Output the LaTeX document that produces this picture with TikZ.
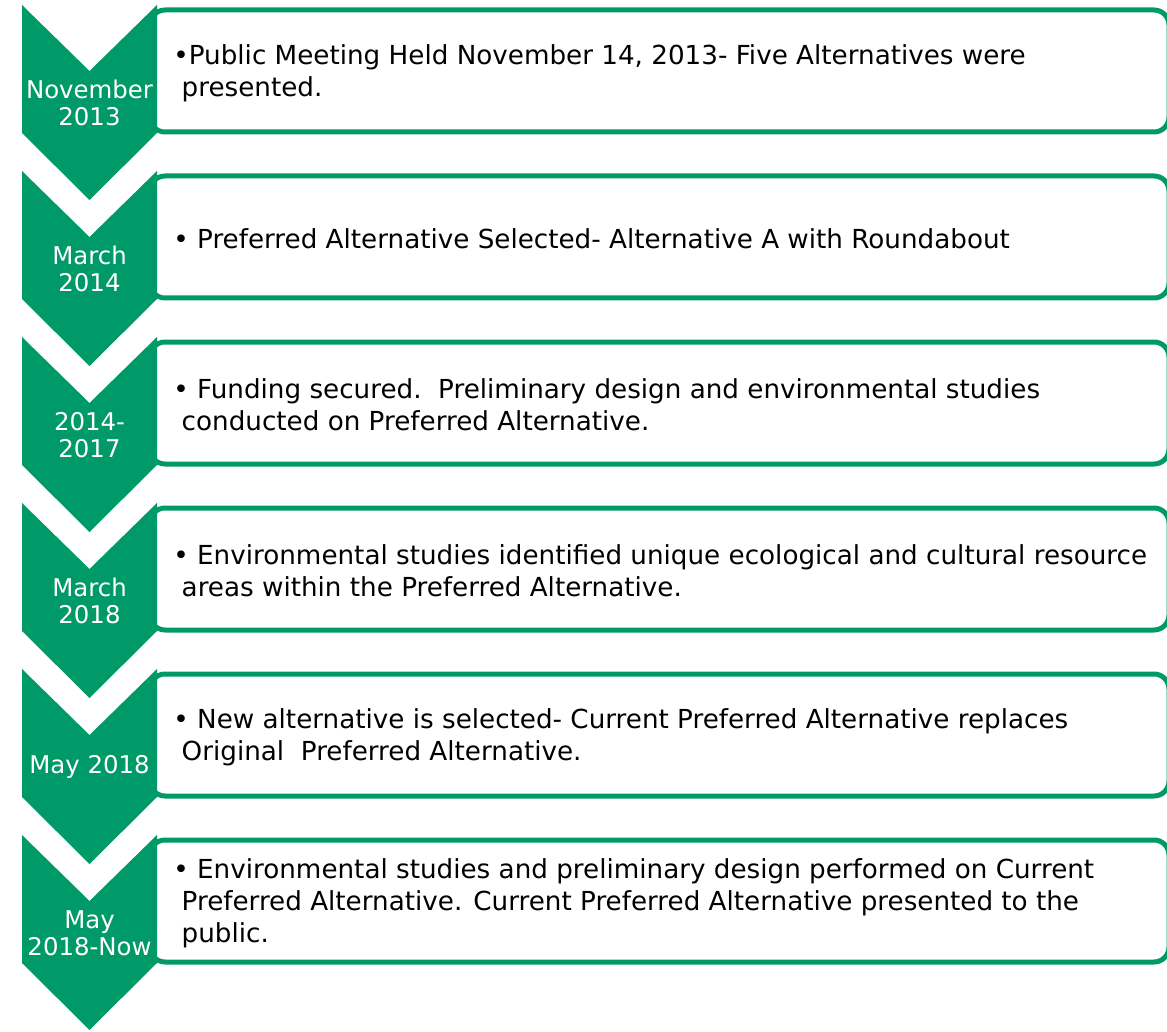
\documentclass[tikz,border=0pt]{standalone}
\usepackage{fontspec}
\setmainfont{DejaVu Sans}
\definecolor{tlgreen}{RGB}{0,154,104}

\begin{document}
\begin{tikzpicture}[x=0.5pt,y=-0.5pt,line join=miter,
	chev/.style={fill=tlgreen},
	entrybox/.style={draw=tlgreen,line width=2.5pt,rounded corners=7.5pt,fill=white},
	datelbl/.style={text=white,align=center,inner sep=0pt,font=\fontsize{12.2}{13.5}\selectfont},
	note/.style={anchor=west,align=left,inner sep=0pt,font=\fontsize{13.1}{16}\selectfont}]
	\useasboundingbox (0,0) rectangle (1167,1032);
	% one row per step: chevron, box, date, text
	\foreach \i/\dt/\txt in {%
		0/{November\\2013}/{•Public Meeting Held November 14, 2013- Five Alternatives were\\\ presented.},
		1/{March\\2014}/{• Preferred Alternative Selected- Alternative A with Roundabout},
		2/{2014-\\2017}/{• Funding secured.\ \ Preliminary design and environmental studies\\\ conducted on Preferred Alternative.},
		3/{March\\2018}/{• Environmental studies identified unique ecological and cultural resource\\\ areas within the Preferred Alternative.},
		4/{May 2018}/{• New alternative is selected- Current Preferred Alternative replaces\\\ Original\ \ Preferred Alternative.},
		5/{May\\2018-Now}/{• Environmental studies and preliminary design performed on Current\\\ Preferred Alternative. Current Preferred Alternative presented to the\\\ public.}}{
		\pgfmathsetmacro{\yt}{5+166*\i}
		\draw [entrybox] (150,\yt+5) rectangle (1169,\yt+127);
		\fill [chev] (22,\yt) -- (89.5,\yt+66) -- (157,\yt) -- (157,\yt+128)
			-- (89.5,\yt+195) -- (22,\yt+128) -- cycle;
		\node [datelbl] (date\i) at (89.5,\yt+98) {\dt};
		\node [note] (note\i) at (173,\yt+68) {\txt};
	}
\end{tikzpicture}
\end{document}
